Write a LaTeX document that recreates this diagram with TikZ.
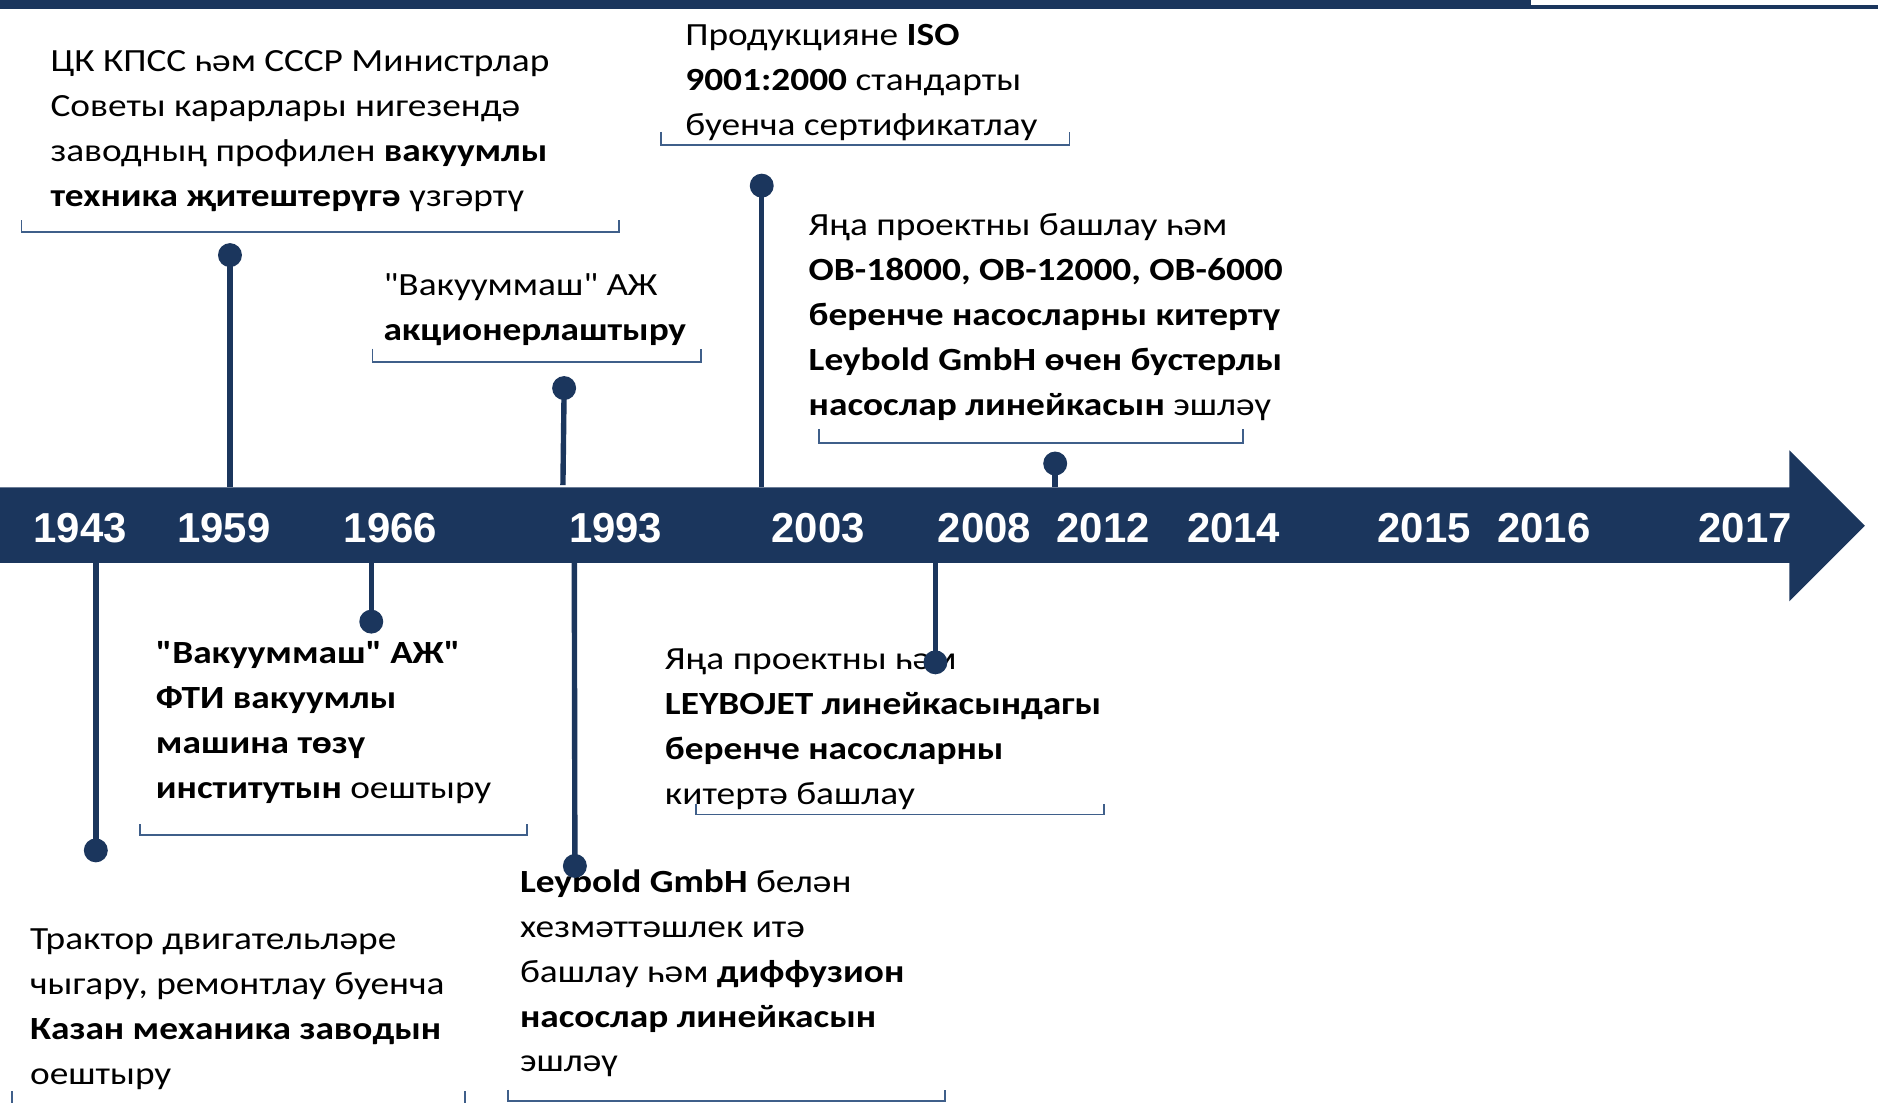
\documentclass[tikz,border=0pt]{standalone}
\usepackage{fontspec}
\setmainfont{Carlito}[FakeStretch=1.155, Ligatures=TeXOff]
\newfontfamily\yearfont{Liberation Sans}
\definecolor{navy}{HTML}{1B365D}
\definecolor{brk}{HTML}{3F5F8A}
\tikzset{
  stem/.style={draw=navy, line width=4.5pt},
  dotnode/.style={circle, fill=navy, minimum size=20pt, inner sep=0pt},
  brack/.style={draw=brk, line width=1.5pt},
  desc/.style={anchor=base west, inner sep=0pt, text=black, font=\fontsize{27}{37.5}\selectfont},
  yearlbl/.style={text=white, inner sep=0pt, font=\yearfont\bfseries\fontsize{35}{40}\selectfont},
}
\newcommand{\blk}[1]{\begin{tabular}[t]{@{}l@{}}#1\end{tabular}}
\newcommand{\qt}{\symbol{34}}
\begin{document}
\begin{tikzpicture}[x=1pt,y=-1pt]
\useasboundingbox (0,0) rectangle (1568,921);
% top bar
\fill[navy] (0,0) rectangle (1278,7.8);
\fill[navy] (1278,3.9) rectangle (1568,7.8);
% timeline band with arrow head
\fill[navy] (0,407) -- (1494,407) -- (1494,376) -- (1557,439) -- (1494,502) -- (1494,470) -- (0,470) -- cycle;
% years
\node[yearlbl] (y1943) at (67,441) {1943};
\node[yearlbl] (y1959) at (187,441) {1959};
\node[yearlbl] (y1966) at (326,441) {1966};
\node[yearlbl] (y1993) at (514,441) {1993};
\node[yearlbl] (y2003) at (683,441) {2003};
\node[yearlbl] (y2008) at (822,441) {2008};
\node[yearlbl] (y2012) at (921,441) {2012};
\node[yearlbl] (y2014) at (1030,441) {2014};
\node[yearlbl] (y2015) at (1189,441) {2015};
\node[yearlbl] (y2016) at (1289,441) {2016};
\node[yearlbl] (y2017) at (1457,441) {2017};
% descriptions
\node[desc] (t1959) at (42,60) {\blk{ЦК КПСС һәм СССР Министрлар\\Советы карарлары нигезендә\\заводның профилен \textbf{вакуумлы}\\\textbf{техника җитештерүгә} үзгәртү}};
\node[desc] (t2003) at (572,38) {\blk{Продукцияне \textbf{ISO}\\\textbf{9001:2000} стандарты\\буенча сертификатлау}};
\node[desc] (t1993a) at (320,247) {\blk{\qt Вакууммаш\qt{} АЖ\\\textbf{акционерлаштыру}}};
\node[desc] (t2012) at (675,197) {\blk{Яңа проектны башлау һәм\\\textbf{OB-18000, OB-12000, OB-6000}\\\textbf{беренче насосларны китертү}\\\textbf{Leybold GmbH өчен бустерлы}\\\textbf{насослар линейкасын} эшләү}};
\node[desc] (t1966) at (130,554) {\blk{\textbf{\qt Вакууммаш\qt{} АЖ\qt}\\\textbf{ФТИ вакуумлы}\\\textbf{машина төзү}\\\textbf{институтын} оештыру}};
\node[desc] (t2008) at (555,559) {\blk{Яңа проектны һәм\\\textbf{LEYBOJET линейкасындагы}\\\textbf{беренче насосларны}\\китертә башлау}};
\node[desc] (t1993b) at (434,745) {\blk{\textbf{Leybold GmbH} белән\\хезмәттәшлек итә\\башлау һәм \textbf{диффузион}\\\textbf{насослар линейкасын}\\эшләү}};
\node[desc] (t1943) at (25,793) {\blk{Трактор двигательләре\\чыгару, ремонтлау буенча\\\textbf{Казан механика заводын}\\оештыру}};
% brackets
\draw[brack] (18,184) -- (18,194) -- (517,194) -- (517,184);
\draw[brack] (552,110) -- (552,121) -- (893,121) -- (893,110);
\draw[brack] (311,291) -- (311,302) -- (585,302) -- (585,291);
\draw[brack] (684,358) -- (684,370) -- (1038,370) -- (1038,358);
\draw[brack] (117,688) -- (117,697) -- (440,697) -- (440,688);
\draw[brack] (581,671) -- (581,680) -- (922,680) -- (922,671);
\draw[brack] (424,910) -- (424,919.5) -- (789,919.5) -- (789,910);
\draw[brack] (10,911) -- (10,921);
\draw[brack] (388,911) -- (388,921);
% stems and dots
\coordinate (s1959) at (192,407);
\coordinate (s1993a) at (470,405);
\coordinate (s2003) at (636,407);
\coordinate (s2012) at (881,407);
\coordinate (s1943) at (80,470);
\coordinate (s1966) at (310,470);
\coordinate (s1993b) at (479.5,470);
\coordinate (s2008) at (781,470);
\node[dotnode] (d1959) at (192,213) {};
\node[dotnode] (d1993a) at (471,324) {};
\node[dotnode] (d2003) at (636,155) {};
\node[dotnode] (d2012) at (881,387) {};
\node[dotnode] (d1943) at (80,710) {};
\node[dotnode] (d1966) at (310,519) {};
\node[dotnode] (d1993b) at (480,723) {};
\node[dotnode] (d2008) at (781,553) {};
\draw[stem] (d1959.center) -- (s1959);
\draw[stem] (d1993a.center) -- (s1993a);
\draw[stem] (d2003.center) -- (s2003);
\draw[stem] (d2012.center) -- (s2012);
\draw[stem] (s1943) -- (d1943.center);
\draw[stem] (s1966) -- (d1966.center);
\draw[stem] (s1993b) -- (d1993b.center);
\draw[stem] (s2008) -- (d2008.center);
\end{tikzpicture}
\end{document}
